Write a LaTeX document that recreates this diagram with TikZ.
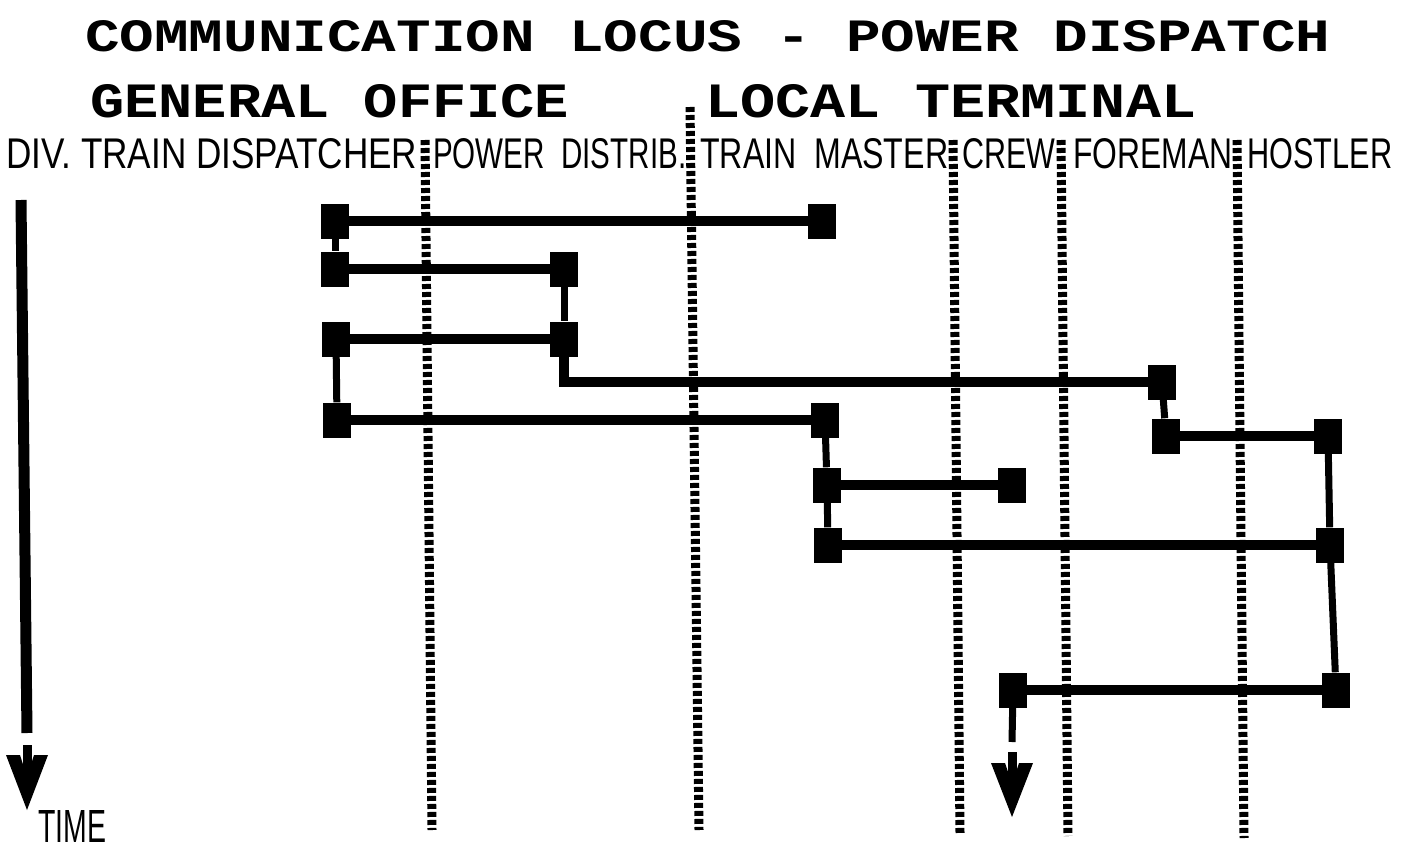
\documentclass[tikz,border=0pt]{standalone}
\usepackage{fontspec}
\usepackage{graphicx}
\newfontfamily\titlefont{Liberation Mono}
\newfontfamily\subfont{Liberation Sans}
\usetikzlibrary{backgrounds}
\begin{document}
\begin{tikzpicture}[x=1pt,y=-1pt,
  evbox/.style={draw=none,fill=black,minimum width=28pt,minimum height=35pt,inner sep=0pt},
  hlink/.style={line width=10pt},
  vlink/.style={line width=7pt},
  lane/.style={line width=9pt,dash pattern=on 5pt off 3pt},
  lbl/.style={inner sep=0pt,anchor=west}]
\useasboundingbox (0,0) rectangle (1407,853);

% texts
\node[lbl] (title) at (85,36) {\resizebox{1245pt}{31pt}{\titlefont\bfseries COMMUNICATION LOCUS - POWER DISPATCH}};
\node[lbl] (go) at (90,101) {\resizebox{479pt}{33pt}{\titlefont\bfseries GENERAL OFFICE}};
\node[lbl] (lt) at (705,101) {\resizebox{491pt}{33pt}{\titlefont\bfseries LOCAL TERMINAL}};
\node[lbl] (h1) at (6,154) {\resizebox{411pt}{30pt}{\subfont DIV. TRAIN DISPATCHER}};
\node[lbl] (h2) at (433,154) {\resizebox{253pt}{30pt}{\subfont POWER\ \ DISTRIB.}};
\node[lbl] (h3) at (700,154) {\resizebox{248pt}{30pt}{\subfont TRAIN\ \ MASTER}};
\node[lbl] (h4) at (962,154) {\resizebox{93pt}{30pt}{\subfont CREW}};
\node[lbl] (h5) at (1073,154) {\resizebox{159pt}{30pt}{\subfont FOREMAN}};
\node[lbl] (h6) at (1247,154) {\resizebox{145pt}{30pt}{\subfont HOSTLER}};
\node[lbl] (time) at (38,826) {\resizebox{68pt}{32pt}{\subfont TIME}};

% event boxes
\node[evbox] (b1L) at (335,221) {};
\node[evbox] (b1R) at (822,221) {};
\node[evbox] (b2L) at (335,269) {};
\node[evbox] (b2R) at (564,269) {};
\node[evbox] (b3L) at (336,339) {};
\node[evbox] (b3R) at (564,339) {};
\node[evbox] (b4L) at (337,420) {};
\node[evbox] (bF1) at (1162,382) {};
\node[evbox] (bT1) at (825,420) {};
\node[evbox] (bF2) at (1166,436) {};
\node[evbox] (bH1) at (1328,436) {};
\node[evbox] (bT2) at (827,485) {};
\node[evbox] (bC1) at (1012,485) {};
\node[evbox] (bT3) at (828,545) {};
\node[evbox] (bH2) at (1330,545) {};
\node[evbox] (bC2) at (1013,690) {};
\node[evbox] (bH3) at (1336,690) {};

% lane ends and arrow points
\coordinate (l1t) at (425,140); \coordinate (l1b) at (432,830);
\coordinate (l2t) at (690,107); \coordinate (l2b) at (699,830);
\coordinate (l3t) at (953,140); \coordinate (l3b) at (960,833);
\coordinate (l4t) at (1061,140); \coordinate (l4b) at (1068,836);
\coordinate (l5t) at (1237,140); \coordinate (l5b) at (1244,838);
\coordinate (tbar1) at (21,200); \coordinate (tbar2) at (27,733);
\coordinate (ttip) at (27,810);
\coordinate (cend) at (1012,742);
\coordinate (ctip) at (1012,817);

\begin{pgfonlayer}{background}
\fill[white] (0,0) rectangle (1407,853);
\draw[lane] (l1t) -- (l1b);
\draw[lane] (l2t) -- (l2b);
\draw[lane] (l3t) -- (l3b);
\draw[lane] (l4t) -- (l4b);
\draw[lane] (l5t) -- (l5b);
% horizontal messages
\draw[hlink] (b1L) -- (b1R);
\draw[hlink] (b2L) -- (b2R);
\draw[hlink] (b3L) -- (b3R);
\draw[hlink] (b4L) -- (bT1);
\draw[hlink] (bF2) -- (bH1);
\draw[hlink] (bT2) -- (bC1);
\draw[hlink] (bT3) -- (bH2);
\draw[hlink] (bC2) -- (bH3);
\draw[hlink] (b3R.center) |- (bF1.center);
% vertical sequences
\draw[vlink] (b1L) -- (b2L);
\draw[vlink] (b3L) -- (b4L);
\draw[vlink] (b2R) -- (b3R);
\draw[vlink] (bF1) -- (bF2);
\draw[vlink] (bH1) -- (bH2) -- (bH3);
\draw[vlink] (bT1) -- (bT2) -- (bT3);
\draw[vlink] (bC2) -- (cend);
\end{pgfonlayer}

% time arrow
\draw[line width=11pt] (tbar1) -- (tbar2);
\fill (ttip) -- ++(-21,-55) -- ++(14,0) -- ++(7,22) -- ++(7,-22) -- ++(14,0) -- cycle;
\draw[line width=9pt] (ttip) ++(0,-15) -- ++(0,-50);
% crew arrow head
\fill (ctip) -- ++(-21,-54) -- ++(14,0) -- ++(7,21) -- ++(7,-21) -- ++(14,0) -- cycle;
\draw[line width=9pt] (ctip) ++(0,-15) -- ++(0,-50);
\end{tikzpicture}
\end{document}
